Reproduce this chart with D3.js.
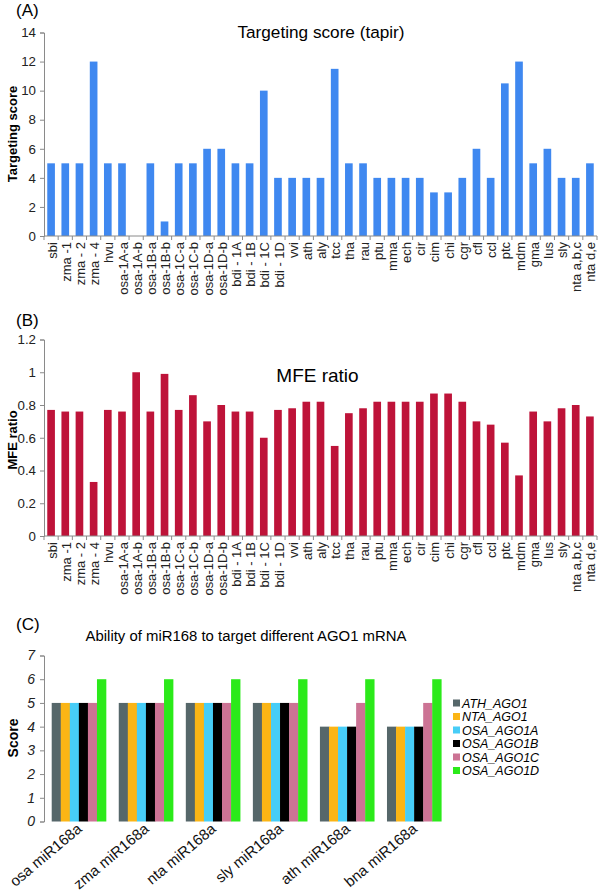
<!DOCTYPE html>
<html><head><meta charset="utf-8">
<script src="https://cdn.jsdelivr.net/npm/d3@7"></script>
<style>body{margin:0;background:#fff}svg{display:block;font-family:"Liberation Sans",Arial,sans-serif}</style>
</head><body>
<svg id="c" width="600" height="891"></svg>
<script>
const species = ["sbi","zma -1","zma - 2","zma - 4","hvu","osa-1A-a","osa-1A-b","osa-1B-a","osa-1B-b","osa-1C-a","osa-1C-b","osa-1D-a","osa-1D-b","bdi - 1A","bdi - 1B","bdi - 1C","bdi - 1D","vvi","ath","aly","tcc","tha","rau","ptu","mma","ech","cir","cim","chi","cgr","cfl","ccl","ptc","mdm","gma","lus","sly","nta a,b,c","nta d,e"];
const targetingScore = [5,5,5,12,5,5,0,5,1,5,5,6,6,5,5,10,4,4,4,4,11.5,5,5,4,4,4,4,3,3,4,6,4,10.5,12,5,6,4,4,5];
const mfeRatio = [0.77,0.76,0.76,0.33,0.77,0.76,1.0,0.76,0.99,0.77,0.86,0.70,0.80,0.76,0.76,0.60,0.77,0.78,0.82,0.82,0.55,0.75,0.78,0.82,0.82,0.82,0.82,0.87,0.87,0.82,0.70,0.68,0.57,0.37,0.76,0.70,0.78,0.80,0.73];
const ticksA = [0,2,4,6,8,10,12,14];
const ticksB = [0,0.2,0.4,0.6,0.8,1,1.2];
const tickLabelsB = ["0","0.2","0.4","0.6","0.8","1","1.2"];

const mirnas = ["osa miR168a","zma miR168a","nta miR168a","sly miR168a","ath miR168a","bna miR168a"];
const agoSeries = ["ATH_AGO1","NTA_AGO1","OSA_AGO1A","OSA_AGO1B","OSA_AGO1C","OSA_AGO1D"];
const ATH_AGO1  = [5,5,5,5,4,4];
const NTA_AGO1  = [5,5,5,5,4,4];
const OSA_AGO1A = [5,5,5,5,4,4];
const OSA_AGO1B = [5,5,5,5,4,4];
const OSA_AGO1C = [5,5,5,5,5,5];
const OSA_AGO1D = [6,6,6,6,6,6];
const ticksC = [0,1,2,3,4,5,6,7];
const agoColors = ["#56676a","#fbb515","#47cdf7","#000000","#cc7394","#2bea1a"];

const svg = d3.select("#c");
const axisCol = "#8a8a8a";

function barPanel(opts){
  const g = svg.append("g");
  const x = d3.scaleBand().domain(species).range([44,597]).paddingInner(0.46).paddingOuter(0.23);
  const y = d3.scaleLinear().domain(opts.domain).range([opts.y0, opts.y1]);
  g.selectAll("rect.bar").data(opts.values).join("rect")
    .attr("x",(d,i)=>x(species[i])).attr("width",x.bandwidth())
    .attr("y",d=>y(d)).attr("height",d=>y(0)-y(d)).attr("fill",opts.color);
  const ya = d3.axisLeft(y).tickValues(opts.ticks).tickSize(4).tickPadding(4)
    .tickFormat((d,i)=>opts.tickLabels? opts.tickLabels[i] : d);
  const yg = g.append("g").attr("transform","translate(44,0)").call(ya).attr("font-family",null);
  yg.select(".domain").attr("stroke",axisCol);
  yg.selectAll(".tick line").attr("stroke",axisCol);
  yg.selectAll("text").attr("font-size",13.3).attr("fill","#222");
  const xg = g.append("g");
  xg.append("line").attr("x1",44).attr("x2",597).attr("y1",y(0)).attr("y2",y(0)).attr("stroke",axisCol);
  const step = x.step();
  xg.selectAll("line.t").data(d3.range(species.length+1)).join("line")
    .attr("x1",i=>44+i*step).attr("x2",i=>44+i*step).attr("y1",y(0)).attr("y2",y(0)+4).attr("stroke",axisCol);
  xg.selectAll("text").data(species).join("text")
    .attr("transform",d=>`translate(${x(d)+x.bandwidth()/2+1},${y(0)+6}) rotate(-90)`)
    .attr("text-anchor","end").attr("dy","0.35em").attr("font-size",13).attr("fill","#222").text(d=>d);
  svg.append("text").attr("x",16).attr("y",opts.panelY).attr("font-size",17).text(opts.panel);
  svg.append("text").attr("x",opts.titleX).attr("y",opts.titleY).attr("text-anchor","middle").attr("font-size",opts.titleSize).text(opts.title);
  svg.append("text").attr("transform",`translate(17,${opts.yLabelY}) rotate(-90)`).attr("text-anchor","middle")
    .attr("font-size",13).attr("font-weight","bold").text(opts.yLabel);
}

barPanel({values:targetingScore, domain:[0,14], y0:236, y1:32.5, color:"#3f88f0", ticks:ticksA,
  panel:"(A)", panelY:16, title:"Targeting score (tapir)", titleX:321, titleY:38, titleSize:17.2, yLabel:"Targeting score", yLabelY:134});
barPanel({values:mfeRatio, domain:[0,1.2], y0:536, y1:339.5, color:"#be1339", ticks:ticksB, tickLabels:tickLabelsB,
  panel:"(B)", panelY:326, title:"MFE ratio", titleX:317.5, titleY:382, titleSize:19, yLabel:"MFE ratio", yLabelY:440});

(function(){
  const seriesVals = [ATH_AGO1,NTA_AGO1,OSA_AGO1A,OSA_AGO1B,OSA_AGO1C,OSA_AGO1D];
  const g = svg.append("g");
  const x0 = d3.scaleBand().domain(mirnas).range([45,448]).paddingInner(0.19).paddingOuter(0.1);
  const x1 = d3.scaleBand().domain(agoSeries).range([0,x0.bandwidth()]);
  const y = d3.scaleLinear().domain([0,7]).range([821.5,655.5]);
  mirnas.forEach((m,mi)=>{
    g.selectAll(null).data(agoSeries).join("rect")
      .attr("x",s=>x0(m)+x1(s)).attr("width",x1.bandwidth()+0.3)
      .attr("y",(s,si)=>y(seriesVals[si][mi])).attr("height",(s,si)=>y(0)-y(seriesVals[si][mi]))
      .attr("fill",(s,si)=>agoColors[si]);
  });
  const yg = g.append("g").attr("transform","translate(44,0)")
    .call(d3.axisLeft(y).tickValues(ticksC).tickSize(4).tickPadding(5).tickFormat(d3.format("d"))).attr("font-family",null);
  yg.select(".domain").attr("stroke",axisCol);
  yg.selectAll(".tick line").attr("stroke",axisCol);
  yg.selectAll("text").attr("font-size",14).attr("font-style","italic").attr("fill","#222");
  g.selectAll("text.xl").data(mirnas).join("text")
    .attr("transform",d=>`translate(${x0(d)+x0.bandwidth()/2+4},${y(0)+9}) rotate(-40)`)
    .attr("text-anchor","end").attr("font-size",15).attr("fill","#111").text(d=>d);
  svg.append("text").attr("x",16).attr("y",630).attr("font-size",17).text("(C)");
  svg.append("text").attr("x",246).attr("y",641).attr("text-anchor","middle").attr("font-size",14.9).text("Ability of miR168 to target different AGO1 mRNA");
  svg.append("text").attr("transform","translate(18,738) rotate(-90)").attr("text-anchor","middle")
    .attr("font-size",14).attr("font-weight","bold").text("Score");
  const lg = svg.append("g").attr("transform","translate(453,703)");
  agoSeries.forEach((s,i)=>{
    lg.append("rect").attr("x",0).attr("y",i*13.5-3.5).attr("width",7).attr("height",7).attr("fill",agoColors[i]);
    lg.append("text").attr("x",9).attr("y",i*13.5).attr("dy","0.36em").attr("font-size",12.5).attr("font-style","italic").text(s);
  });
})();
</script>
</body></html>
